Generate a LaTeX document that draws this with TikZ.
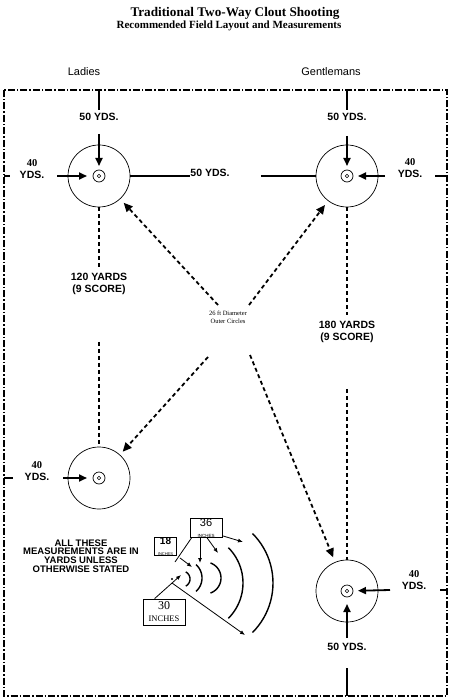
\documentclass[tikz,border=0pt]{standalone}
\usepackage{fontspec}
\setmainfont{Liberation Serif}
\setsansfont{Liberation Sans}
\usetikzlibrary{arrows.meta}

\begin{document}
\begin{tikzpicture}[x=1pt, y=-1pt, >=Latex,
  field/.style={line width=1.1pt, dash pattern=on 7pt off 2pt on 1.5pt off 2pt},
  target/.style={circle, draw, line width=0.7pt, minimum size=62pt, inner sep=0pt},
  yds/.style={font=\sffamily\bfseries\fontsize{10.5}{12}\selectfont, inner sep=0pt, align=center},
  side/.style={font=\sffamily\fontsize{11}{13}\selectfont, inner sep=0pt},
  rule/.style={line width=2pt},
  tip/.style={line width=1.8pt, -{Triangle[length=8pt,width=7pt]}},
  yard/.style={line width=2pt, dash pattern=on 4pt off 3pt},
  diag/.style={line width=1.8pt, dash pattern=on 4pt off 3pt, -{Triangle[length=9pt,width=8pt]}},
  wave/.style={line width=1.4pt},
  thin/.style={line width=0.8pt, -{Latex[length=5pt,width=4pt]}},
  inch/.style={draw, line width=0.8pt, inner sep=0pt, align=center}]

\useasboundingbox (0,0) rectangle (455,700);

% titel
\node[font=\rmfamily\bfseries\fontsize{13.2}{15}\selectfont] (title) at (235,13) {Traditional Two-Way Clout Shooting};
\node[font=\rmfamily\bfseries\fontsize{11}{12}\selectfont] (sub) at (229,26) {Recommended Field Layout and Measurements};
\node[side] (ladies) at (84,72) {Ladies};
\node[side] (gents) at (331,72) {Gentlemans};

% feld
\draw[field] (4,90) rectangle (447,696);

% targets
\node[target] (lt) at (99,176) {};
\node[target] (gt) at (347,176) {};
\node[target] (lb) at (99,478) {};
\node[target] (gb) at (347,591) {};
\foreach \t in {lt,gt,lb,gb} {
  \draw[line width=0.7pt] (\t) circle (6pt);
  \draw[line width=0.6pt] (\t) circle (1.8pt);
}

% ladies oben
\coordinate (ltTop) at (99,90);
\coordinate (ltL) at (57,176);
\draw[rule] (ltTop) -- ++(0,20);
\node[yds] (lt50) at (99,117) {50 YDS.};
\draw[tip, shorten <=13pt, shorten >=10pt] (lt50) -- (lt.center);
\node[yds] (lt40) at (32,169) {{\rmfamily 40}\\YDS.};
\draw[rule] (4,176) -- ++(6,0);
\draw[tip, shorten >=12pt] (ltL) -- (lt.center);

% zwischen den targets
\node[yds] (mid50) at (210,173) {50 YDS.};
\draw[rule] (lt.east) -- (mid50.west |- lt.east);
\draw[rule, shorten <=31pt] (mid50.east |- gt.west) -- (gt.west);

% gentlemans oben
\coordinate (gtTop) at (347,90);
\coordinate (gtR) at (385,176);
\draw[rule] (gtTop) -- ++(0,20);
\node[yds] (gt50) at (347,117) {50 YDS.};
\draw[tip, shorten <=15pt, shorten >=10pt] (gt50) -- (gt.center);
\node[yds] (gt40) at (410,168) {{\rmfamily 40}\\YDS.};
\draw[rule] (435,176) -- (447,176);
\draw[tip, shorten >=11pt] (gtR) -- (gt.center);

% 9 score
\coordinate (ltY) at (99,270);
\coordinate (gtY) at (347,315);
\draw[yard] (lt.south) -- (ltY);
\node[yds] (lt120) at (99,284) {120 YARDS\\(9 SCORE)};
\draw[yard, shorten <=47pt] (lt120.south) -- (lb.north);
\draw[yard] (gt.south) -- (gtY);
\node[yds] (gt180) at (347,332) {180 YARDS\\(9 SCORE)};
\draw[yard, shorten <=46pt] (gt180.south) -- (gb.north);

% durchmesser
\node[font=\rmfamily\fontsize{6.5}{7.5}\selectfont, align=center, inner sep=0pt] (dia) at (228,317) {26 ft Diameter\\Outer Circles};
\coordinate (d1) at (218,305);
\coordinate (d2) at (249,305);
\coordinate (d3) at (208,357);
\coordinate (d4) at (250,355);
\draw[diag, shorten >=5pt] (d1) -- (lt);
\draw[diag, shorten >=5pt] (d2) -- (gt);
\draw[diag, shorten >=4pt] (d3) -- (lb);
\draw[diag, shorten >=5pt] (d4) -- (gb);

% ladies unten
\coordinate (lbL) at (63,478);
\node[yds] (lb40) at (37,471) {{\rmfamily 40}\\YDS.};
\draw[rule] (4,478) -- ++(9,0);
\draw[tip, shorten >=12pt] (lbL) -- (lb.center);

% gentlemans unten
\coordinate (gbR) at (390,590);
\coordinate (gbB) at (347,638);
\coordinate (gbEnd) at (347,696);
\node[yds] (gb40) at (414,580) {{\rmfamily 40}\\YDS.};
\draw[rule] (440,590) -- (447,590);
\draw[tip, shorten >=11pt] (gbR) -- (gb.center);
\draw[tip, shorten >=13pt] (gbB) -- (gb.center);
\node[yds] (gb50) at (347,647) {50 YDS.};
\draw[rule] (gbEnd) -- ++(0,-28);

% hinweis
\node[font=\sffamily\bfseries\fontsize{9.5}{8.7}\selectfont, align=center, inner sep=0pt] (note) at (81,556)
  {ALL THESE\\MEASUREMENTS ARE IN\\YARDS UNLESS\\OTHERWISE STATED};

% kreisboegen
\coordinate (o) at (172,579);
\fill (o) circle (1.2pt);
\foreach \cx/\cy/\r/\a in {182/579/8/62, 184/578/18/48, 205/578/16/70, 193/583/50/45, 203/583/70/45}
  \draw[wave] plot[domain=-\a:\a, samples=25] ({\cx+\r*cos(\x)}, {\cy+\r*sin(\x)});

\node[inch, minimum width=32pt, minimum height=17pt] (b36) at (206,528)
  {\sffamily\fontsize{11}{10}\selectfont 36\\[-1pt]\sffamily\fontsize{4.5}{5}\selectfont INCHES};
\node[inch, minimum width=22pt, minimum height=17pt] (b18) at (165.5,546.5)
  {\sffamily\bfseries\fontsize{10}{9}\selectfont 18\\[-1pt]\sffamily\fontsize{4}{5}\selectfont INCHES};
\node[inch, minimum width=42pt, minimum height=26pt] (b30) at (164,612)
  {\rmfamily\fontsize{12}{12}\selectfont 30\\\rmfamily\fontsize{8.5}{9}\selectfont INCHES};

\coordinate (a1) at (192,567);
\coordinate (a3) at (200,563);
\coordinate (a4) at (218,553);
\coordinate (a5) at (243,542);
\coordinate (a6) at (175,562);
\coordinate (a7) at (181,575);
\coordinate (a8) at (245,635);
\draw[thin] (b36.south east) ++(0,-2) -- (a5);
\draw[thin] (b36.south) ++(-6,0) -- (a3);
\draw[thin] (b36.south) ++(1,0) -- (a4);
\draw[line width=0.8pt] (b36.south west) ++(2,0) -- (a6);
\draw[thin] (b18.south east) ++(3,2) -- (a1);
\draw[thin] (b30.north west) ++(12,0) -- (a7);
\draw[thin] (o) ++(0,4) -- (a8);

\end{tikzpicture}
\end{document}
